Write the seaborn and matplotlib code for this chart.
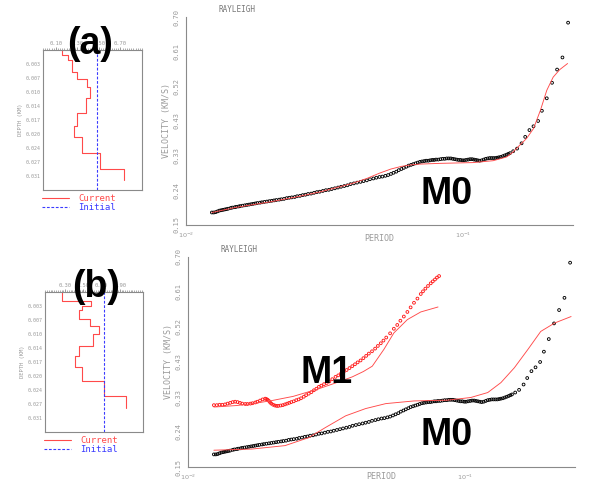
import numpy as np
import matplotlib
matplotlib.use("Agg")
import matplotlib.pyplot as plt
import seaborn as sns
from matplotlib.ticker import LogLocator, NullFormatter, MultipleLocator

# ---------------- data ----------------
# observed fundamental mode (M0) dispersion: period (s), phase velocity (km/s)
m0_period = [0.0124, 0.0126, 0.0128, 0.0130, 0.0132, 0.0134, 0.0136, 0.0138, 0.0140, 0.0142,
             0.0145, 0.0147, 0.0150, 0.0152, 0.0155, 0.0157, 0.0160, 0.0163, 0.0166, 0.0169,
             0.0172, 0.0175, 0.0178, 0.0181, 0.0185, 0.0188, 0.0192, 0.0196, 0.0200, 0.0204,
             0.0208, 0.0212, 0.0217, 0.0221, 0.0226, 0.0231, 0.0236, 0.0241, 0.0247, 0.0252,
             0.0258, 0.0264, 0.0270, 0.0276, 0.0283, 0.0290, 0.0297, 0.0304, 0.0312, 0.0320,
             0.0328, 0.0336, 0.0345, 0.0354, 0.0363, 0.0373, 0.0383, 0.0393, 0.0404, 0.0415,
             0.0427, 0.0438, 0.0450, 0.0462, 0.0475, 0.0487, 0.0500, 0.0512, 0.0525, 0.0537,
             0.0550, 0.0562, 0.0575, 0.0587, 0.0600, 0.0612, 0.0625, 0.0637, 0.0650, 0.0662,
             0.0675, 0.0687, 0.0700, 0.0712, 0.0725, 0.0737, 0.0750, 0.0762, 0.0775, 0.0787,
             0.0800, 0.0815, 0.0830, 0.0845, 0.0860, 0.0875, 0.0890, 0.0905, 0.0920, 0.0935,
             0.0950, 0.0965, 0.0980, 0.0995, 0.1010, 0.1027, 0.1045, 0.1062, 0.1080, 0.1097,
             0.1115, 0.1132, 0.1150, 0.1170, 0.1190, 0.1210, 0.1230, 0.1250, 0.1270, 0.1290,
             0.1310, 0.1330, 0.1350, 0.1372, 0.1395, 0.1417, 0.1440, 0.1460, 0.1480,
             0.152, 0.157, 0.163, 0.168, 0.174, 0.180, 0.187, 0.193, 0.201, 0.210,
             0.219, 0.229, 0.240]
m0_velocity = [0.183, 0.183, 0.184, 0.186, 0.188, 0.189, 0.190, 0.191, 0.192, 0.193,
               0.195, 0.196, 0.197, 0.198, 0.199, 0.200, 0.201, 0.202, 0.203, 0.204,
               0.205, 0.206, 0.207, 0.208, 0.209, 0.210, 0.211, 0.212, 0.213, 0.214,
               0.215, 0.216, 0.217, 0.218, 0.219, 0.221, 0.222, 0.223, 0.224, 0.226,
               0.227, 0.229, 0.230, 0.232, 0.233, 0.235, 0.237, 0.238, 0.240, 0.242,
               0.243, 0.245, 0.247, 0.249, 0.251, 0.253, 0.255, 0.258, 0.260, 0.262,
               0.264, 0.266, 0.268, 0.271, 0.273, 0.275, 0.277, 0.278, 0.280, 0.282,
               0.285, 0.288, 0.291, 0.295, 0.298, 0.301, 0.304, 0.307, 0.309, 0.311,
               0.313, 0.315, 0.317, 0.318, 0.319, 0.320, 0.320, 0.321, 0.322, 0.322,
               0.323, 0.323, 0.324, 0.325, 0.325, 0.326, 0.326, 0.326, 0.325, 0.324,
               0.323, 0.322, 0.322, 0.321, 0.321, 0.322, 0.323, 0.324, 0.324, 0.323,
               0.322, 0.321, 0.320, 0.321, 0.323, 0.325, 0.326, 0.327, 0.327, 0.327,
               0.327, 0.328, 0.329, 0.330, 0.332, 0.334, 0.336, 0.338, 0.340,
               0.345, 0.352, 0.366, 0.383, 0.401, 0.411, 0.425, 0.452, 0.485, 0.526,
               0.561, 0.593, 0.685]

# observed first higher mode (M1)
m1_period = [0.0124, 0.0127, 0.0130, 0.0133, 0.0136, 0.0139, 0.0142, 0.0145, 0.0148, 0.0151,
             0.0154, 0.0157, 0.0161, 0.0164, 0.0168, 0.0171, 0.0175, 0.0178, 0.0182, 0.0186,
             0.0190, 0.0192, 0.0194, 0.0196, 0.0198, 0.0200, 0.0203, 0.0206, 0.0209, 0.0212,
             0.0216, 0.0220, 0.0224, 0.0228, 0.0232, 0.0236, 0.0241, 0.0246, 0.0251, 0.0256,
             0.0262, 0.0267, 0.0273, 0.0279, 0.0285, 0.0291, 0.0297, 0.0303, 0.0310, 0.0317,
             0.0324, 0.0332, 0.0341, 0.0349, 0.0357, 0.0365, 0.0374, 0.0383, 0.0392, 0.0401,
             0.0410, 0.0420, 0.0430, 0.0440, 0.0450, 0.0462, 0.0474, 0.0485, 0.0497, 0.0508,
             0.0520, 0.0537, 0.0554, 0.0570, 0.0585, 0.0602, 0.0620, 0.0637, 0.0655, 0.0674,
             0.0693, 0.0706, 0.0720, 0.0736, 0.0753, 0.0766, 0.0780, 0.0793, 0.0807]
m1_velocity = [0.312, 0.312, 0.313, 0.313, 0.314, 0.316, 0.318, 0.320, 0.321, 0.320,
               0.318, 0.316, 0.315, 0.315, 0.316, 0.317, 0.319, 0.321, 0.324, 0.327,
               0.329, 0.328, 0.326, 0.323, 0.319, 0.316, 0.313, 0.311, 0.310, 0.310,
               0.311, 0.312, 0.314, 0.316, 0.318, 0.320, 0.322, 0.325, 0.327, 0.330,
               0.334, 0.338, 0.342, 0.346, 0.351, 0.355, 0.360, 0.363, 0.367, 0.370,
               0.374, 0.380, 0.386, 0.390, 0.395, 0.399, 0.404, 0.409, 0.414, 0.419,
               0.424, 0.429, 0.435, 0.441, 0.447, 0.453, 0.460, 0.467, 0.474, 0.481,
               0.489, 0.500, 0.512, 0.522, 0.533, 0.544, 0.556, 0.568, 0.580, 0.591,
               0.603, 0.610, 0.617, 0.624, 0.631, 0.636, 0.641, 0.646, 0.650]

# theoretical M0 curve for model (a)
fit_a_period = [0.0124, 0.0150, 0.0201, 0.0250, 0.0303, 0.0350, 0.0399, 0.0450, 0.0500, 0.0550,
                0.0600, 0.0650, 0.0700, 0.0830, 0.1090, 0.1287, 0.1440, 0.1520, 0.1605, 0.1700,
                0.1800, 0.1906, 0.2010, 0.2120, 0.2240, 0.2390]
fit_a_velocity = [0.183, 0.196, 0.211, 0.224, 0.237, 0.249, 0.260, 0.273, 0.287, 0.298,
                  0.305, 0.309, 0.311, 0.313, 0.315, 0.320, 0.330, 0.343, 0.361, 0.379,
                  0.405, 0.453, 0.506, 0.541, 0.561, 0.577]

# theoretical M0 and M1 curves for model (b)
fit_b0_period = [0.0124, 0.0170, 0.0224, 0.0273, 0.0313, 0.0371, 0.0438, 0.0518, 0.0655, 0.0865,
                 0.105, 0.121, 0.135, 0.151, 0.169, 0.188, 0.211, 0.242]
fit_b0_velocity = [0.194, 0.197, 0.206, 0.227, 0.253, 0.284, 0.303, 0.316, 0.323, 0.325,
                   0.332, 0.345, 0.371, 0.410, 0.458, 0.505, 0.527, 0.544]
fit_b1_period = [0.0124, 0.0150, 0.0175, 0.0201, 0.0240, 0.0297, 0.0341, 0.0392, 0.0430, 0.0463,
                 0.0510, 0.0554, 0.0620, 0.0693, 0.0800]
fit_b1_velocity = [0.307, 0.311, 0.317, 0.324, 0.335, 0.355, 0.370, 0.386, 0.400, 0.414,
                   0.458, 0.501, 0.536, 0.556, 0.569]

# shear-velocity profiles (layer boundaries in km, layer velocities)
prof_a_bounds = [0.0, 0.00123, 0.00246, 0.00534, 0.00723, 0.00904, 0.01191, 0.01561,
                 0.01873, 0.02136, 0.02546, 0.02941, 0.03204]
prof_a_vel = [0.156, 0.21, 0.25, 0.30, 0.39, 0.42, 0.38, 0.295, 0.27, 0.34, 0.51, 0.73]
init_a = 0.48
prof_b_bounds = [0.0, 0.00231, 0.00355, 0.00437, 0.00669, 0.00834, 0.01032, 0.01329,
                 0.01576, 0.01841, 0.02195, 0.02567, 0.02848]
prof_b_vel = [0.267, 0.589, 0.489, 0.456, 0.578, 0.667, 0.611, 0.456, 0.411, 0.489, 0.722, 0.967]
init_b = 0.722

depth_ticks = [0.00345, 0.0069, 0.01035, 0.0138, 0.01725, 0.0207, 0.02415, 0.0276, 0.03105]
depth_labels = ["0.003", "0.007", "0.010", "0.014", "0.017", "0.020", "0.024", "0.027", "0.031"]
vs_ticks_a = [0.10, 0.30, 0.50, 0.70]
vs_labels_a = ["0.10", "0.30", "0.50", "0.70"]
vs_ticks_b = [0.30, 0.50, 0.70, 0.90]
vs_labels_b = ["0.30", "0.50", "0.70", "0.90"]

vel_ticks = [0.15, 0.2417, 0.3333, 0.425, 0.5167, 0.6083, 0.70]
vel_labels = ["0.15", "0.24", "0.33", "0.43", "0.52", "0.61", "0.70"]

# ---------------- style ----------------
sns.set_style("white")
plt.rcParams["font.family"] = ["DejaVu Sans"]
GRAY = "#9a9a9a"
SPINE = "#8a8a8a"
RED = "#ff4a4a"
MONO = "DejaVu Sans Mono"

fig = plt.figure(figsize=(5.92, 4.83), dpi=100)
fig.patch.set_facecolor("white")


def velocity_panel(rect, observed, fits, period_y):
    ax = fig.add_axes(rect)
    ax.set_xscale("log")
    for per, vel, col in observed:
        sns.scatterplot(x=per, y=vel, ax=ax, marker="o", s=4, facecolor="none",
                        edgecolor=col, linewidth=0.65, legend=False, zorder=3)
    for per, vel in fits:
        sns.lineplot(x=per, y=vel, ax=ax, color=RED, linewidth=0.65, sort=False,
                     estimator=None, zorder=4)
    ax.set_xlim(0.01, 0.25)
    ax.set_ylim(0.15, 0.70)
    for s in ["top", "right"]:
        ax.spines[s].set_visible(False)
    for s in ["left", "bottom"]:
        ax.spines[s].set_color(SPINE)
        ax.spines[s].set_linewidth(0.8)
    ax.set_xticks([0.01, 0.1], [r"$10^{-2}$", r"$10^{-1}$"])
    ax.xaxis.set_minor_locator(LogLocator(base=10, subs=np.arange(2, 10)))
    ax.xaxis.set_minor_formatter(NullFormatter())
    ax.set_yticks(vel_ticks, vel_labels)
    plt.setp(ax.get_yticklabels(), rotation=90, va="center", family=MONO)
    ax.tick_params(axis="y", which="major", direction="out", length=4, width=0.6,
                   color=SPINE, labelsize=5, labelcolor=GRAY, pad=0.8)
    ax.tick_params(axis="x", which="major", direction="out", length=3.5, width=0.6,
                   color=SPINE, labelsize=4.6, labelcolor=GRAY, pad=0.3)
    ax.tick_params(axis="x", which="minor", direction="out", length=3, width=0.6, color=SPINE)
    ax.set_xlabel("")
    ax.text(0.5, period_y, "PERIOD", transform=ax.transAxes, fontsize=6, color=GRAY,
            family=MONO, ha="center", va="center")
    ax.set_ylabel("VELOCITY (KM/S)", fontsize=6, color=GRAY, family=MONO, labelpad=2)
    ax.text(0.083, 1.015, "RAYLEIGH", transform=ax.transAxes, fontsize=5.5, color="#777777",
            family=MONO, va="bottom")
    ax.set_facecolor("white")
    return ax


def profile_panel(rect, bounds, vels, init, xticks, xlabels, xlim):
    ax = fig.add_axes(rect)
    b = np.asarray(bounds)
    v = np.asarray(vels)
    dep_pts = np.repeat(b, 2)[1:-1]
    vel_pts = np.repeat(v, 2)
    sns.lineplot(x=vel_pts, y=dep_pts, ax=ax, sort=False, estimator=None, color=RED,
                 linewidth=0.8, label="Current")
    ax.axvline(init, color="#3b3bff", linestyle=(0, (2.5, 1.5)), linewidth=0.8, label="Initial")
    ax.set_xlim(*xlim)
    ax.set_ylim(0.0345, 0.0)
    ax.xaxis.tick_top()
    ax.set_xticks(xticks, xlabels)
    ax.xaxis.set_minor_locator(MultipleLocator(0.02))
    ax.set_yticks(depth_ticks, depth_labels)
    for s in ax.spines.values():
        s.set_color(SPINE)
        s.set_linewidth(0.8)
    ax.tick_params(axis="x", which="major", direction="out", length=2.5, width=0.6,
                   color=SPINE, labelsize=4, labelcolor=GRAY, pad=0.5)
    ax.tick_params(axis="x", which="minor", direction="out", length=1.5, width=0.5, color=SPINE)
    ax.tick_params(axis="y", which="major", direction="in", length=6, width=0.6,
                   color=SPINE, labelsize=3.6, labelcolor=GRAY, pad=1.5)
    plt.setp(ax.get_xticklabels() + ax.get_yticklabels(), family=MONO)
    ax.set_ylabel("DEPTH (KM)", fontsize=4, color=GRAY, family=MONO, labelpad=2)
    ax.set_xlabel("")
    ax.legend(loc="upper left", bbox_to_anchor=(-0.01, -0.027), frameon=False,
              prop={"family": MONO, "size": 6.5}, labelcolor="linecolor",
              handlelength=3.0, handletextpad=1.0, labelspacing=0.05, borderpad=0.0,
              borderaxespad=0.0)
    return ax


ax_a = velocity_panel([0.3142, 0.5342, 0.6537, 0.4306],
                      [(m0_period, m0_velocity, "black")],
                      [(fit_a_period, fit_a_velocity)], -0.067)
ax_b = velocity_panel([0.3176, 0.0331, 0.6537, 0.4349],
                      [(m0_period, m0_velocity, "black"), (m1_period, m1_velocity, "#ff1a1a")],
                      [(fit_b0_period, fit_b0_velocity), (fit_b1_period, fit_b1_velocity)],
                      -0.045)

pa = profile_panel([0.0726, 0.6066, 0.1672, 0.2899], prof_a_bounds, prof_a_vel, init_a,
                   vs_ticks_a, vs_labels_a, (-0.02, 0.90))
pb = profile_panel([0.0760, 0.1056, 0.1655, 0.2899], prof_b_bounds, prof_b_vel, init_b,
                   vs_ticks_b, vs_labels_b, (0.078, 1.156))

BIG = dict(family="Liberation Sans", weight="bold", color="black", ha="center", va="center",
           zorder=10)
fig.text(0.152, 0.909, "(a)", fontsize=27, **BIG)
fig.text(0.162, 0.406, "(b)", fontsize=27, **BIG)
fig.text(0.755, 0.598, "M0", fontsize=27, **BIG)
fig.text(0.755, 0.099, "M0", fontsize=27, **BIG)
fig.text(0.552, 0.228, "M1", fontsize=27, **BIG)

fig.savefig("out.png", dpi=100, facecolor="white")
